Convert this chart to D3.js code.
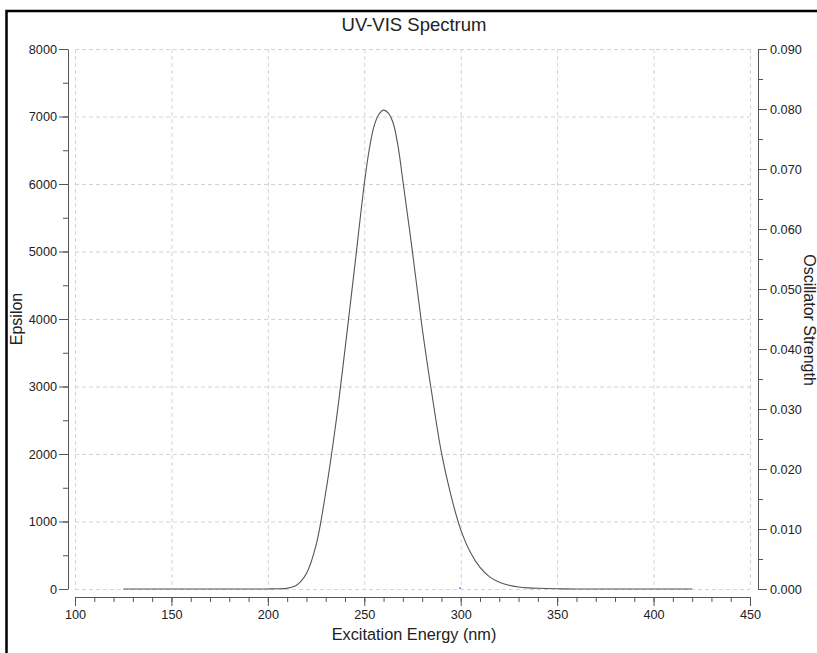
<!DOCTYPE html>
<html>
<head>
<meta charset="utf-8">
<script src="https://cdn.jsdelivr.net/npm/d3@7"></script>
<style>
    body { margin: 0; background: #fff; }
    #chart svg { display: block; font-family: "Liberation Sans", Arial, sans-serif; }
    .axis path, .axis line { stroke: #555; }
    .axis text { fill: #222; font-size: 12.7px; }
</style>
</head>
<body>
<div id="chart"></div>
<script>
// Spectrum (nm, epsilon)
const wavelengths = [125, 135, 145, 155, 165, 175, 185, 195, 200, 205, 210, 215, 220, 225, 230, 235,
    240, 245, 250, 252.5, 255, 257.5, 260, 262.5, 265, 267.5, 270, 275, 280, 285, 290, 295,
    300, 305, 310, 315, 320, 325, 330, 335, 340, 350, 360, 380, 400, 420];
const epsilon = [0, 0, 0, 0, 0, 0, 0, 0, 1, 3, 12, 60, 230, 650, 1430, 2400,
    3550, 4770, 6000, 6500, 6850, 7030, 7095, 7050, 6900, 6560, 6050, 4990, 3870, 2900, 2020, 1380,
    880, 545, 320, 180, 100, 55, 30, 17, 10, 3, 1, 0, 0, 0];

// Oscillator strength sticks
const stickNm = [299.6];
const stickF = [0.0003];

const xTicks = [100, 150, 200, 250, 300, 350, 400, 450];
const yTicks = [0, 1000, 2000, 3000, 4000, 5000, 6000, 7000, 8000];
const y2Ticks = [0, 0.01, 0.02, 0.03, 0.04, 0.05, 0.06, 0.07, 0.08, 0.09];

const W = 817, H = 653;

const svg = d3.select("#chart")
    .append("svg")
    .attr("width", W)
    .attr("height", H);

// Frame
svg.append("rect")
    .attr("x", 6.5)
    .attr("y", 11)
    .attr("width", 830)
    .attr("height", 700)
    .attr("fill", "none")
    .attr("stroke", "#000")
    .attr("stroke-width", 2.5);

// Scales
const x = d3.scaleLinear().domain([100, 450]).range([75, 750]);
const y = d3.scaleLinear().domain([0, 8000]).range([589, 49]);
const y2 = d3.scaleLinear().domain([0, 0.09]).range([589, 49]);

// Gridlines
const grid = svg.append("g")
    .attr("stroke", "#d4d4d4")
    .attr("stroke-width", 1)
    .attr("stroke-dasharray", "4,3");

grid.selectAll(".vgrid")
    .data(xTicks)
    .enter()
    .append("line")
    .attr("x1", d => x(d) + 0.5)
    .attr("x2", d => x(d) + 0.5)
    .attr("y1", y(8000))
    .attr("y2", y(0));

grid.selectAll(".hgrid")
    .data(yTicks)
    .enter()
    .append("line")
    .attr("x1", x(100))
    .attr("x2", x(450))
    .attr("y1", d => y(d) + 0.5)
    .attr("y2", d => y(d) + 0.5);

// Axes
const axisX = 68, axisY = 597, axisX2 = 758;

svg.append("g")
    .attr("class", "axis")
    .attr("transform", `translate(${axisX},0)`)
    .call(d3.axisLeft(y).tickValues(d3.range(0, 8001, 500)).tickSize(5).tickFormat("").tickSizeOuter(0));
svg.append("g")
    .attr("class", "axis")
    .attr("transform", `translate(${axisX},0)`)
    .call(d3.axisLeft(y).tickValues(yTicks).tickSize(9).tickPadding(2).tickFormat(d3.format("d")).tickSizeOuter(0))
    .select(".domain").remove();

svg.append("g")
    .attr("class", "axis")
    .attr("transform", `translate(0,${axisY})`)
    .call(d3.axisBottom(x).tickValues(d3.range(100, 451, 10)).tickSize(5).tickFormat("").tickSizeOuter(0));
svg.append("g")
    .attr("class", "axis")
    .attr("transform", `translate(0,${axisY})`)
    .call(d3.axisBottom(x).tickValues(xTicks).tickSize(9).tickPadding(4).tickFormat(d3.format("d")).tickSizeOuter(0))
    .select(".domain").remove();

svg.append("g")
    .attr("class", "axis")
    .attr("transform", `translate(${axisX2},0)`)
    .call(d3.axisRight(y2).tickValues(d3.range(0, 0.0901, 0.005)).tickSize(5).tickFormat("").tickSizeOuter(0));
svg.append("g")
    .attr("class", "axis")
    .attr("transform", `translate(${axisX2},0)`)
    .call(d3.axisRight(y2).tickValues(y2Ticks).tickSize(9).tickPadding(3).tickFormat(d3.format(".3f")).tickSizeOuter(0))
    .select(".domain").remove();

// Spectrum curve
const spectrum = wavelengths.map((w, i) => ({ w, e: epsilon[i] }));
svg.append("path")
    .datum(spectrum)
    .attr("fill", "none")
    .attr("stroke", "#555")
    .attr("stroke-width", 1.1)
    .attr("d", d3.line()
        .x(d => x(d.w))
        .y(d => y(Math.max(0, d.e)))
        .curve(d3.curveCatmullRom.alpha(0.5)));

// Oscillator strength sticks
svg.selectAll(".stick")
    .data(stickNm.map((w, i) => ({ w, f: stickF[i] })))
    .enter()
    .append("line")
    .attr("x1", d => x(d.w))
    .attr("x2", d => x(d.w))
    .attr("y1", y2(0))
    .attr("y2", d => y2(d.f))
    .attr("stroke", "#3030ff")
    .attr("stroke-width", 1);

// Titles
svg.append("text")
    .attr("x", 414)
    .attr("y", 31)
    .attr("text-anchor", "middle")
    .style("font-size", "18.5px")
    .style("fill", "#222")
    .text("UV-VIS Spectrum");

svg.append("text")
    .attr("x", 414)
    .attr("y", 640)
    .attr("text-anchor", "middle")
    .style("font-size", "16.3px")
    .style("fill", "#222")
    .text("Excitation Energy (nm)");

svg.append("text")
    .attr("transform", "translate(22,319) rotate(-90)")
    .attr("text-anchor", "middle")
    .style("font-size", "16px")
    .style("fill", "#222")
    .text("Epsilon");

svg.append("text")
    .attr("transform", "translate(804,320) rotate(90)")
    .attr("text-anchor", "middle")
    .style("font-size", "16px")
    .style("fill", "#222")
    .text("Oscillator Strength");
</script>
</body>
</html>
